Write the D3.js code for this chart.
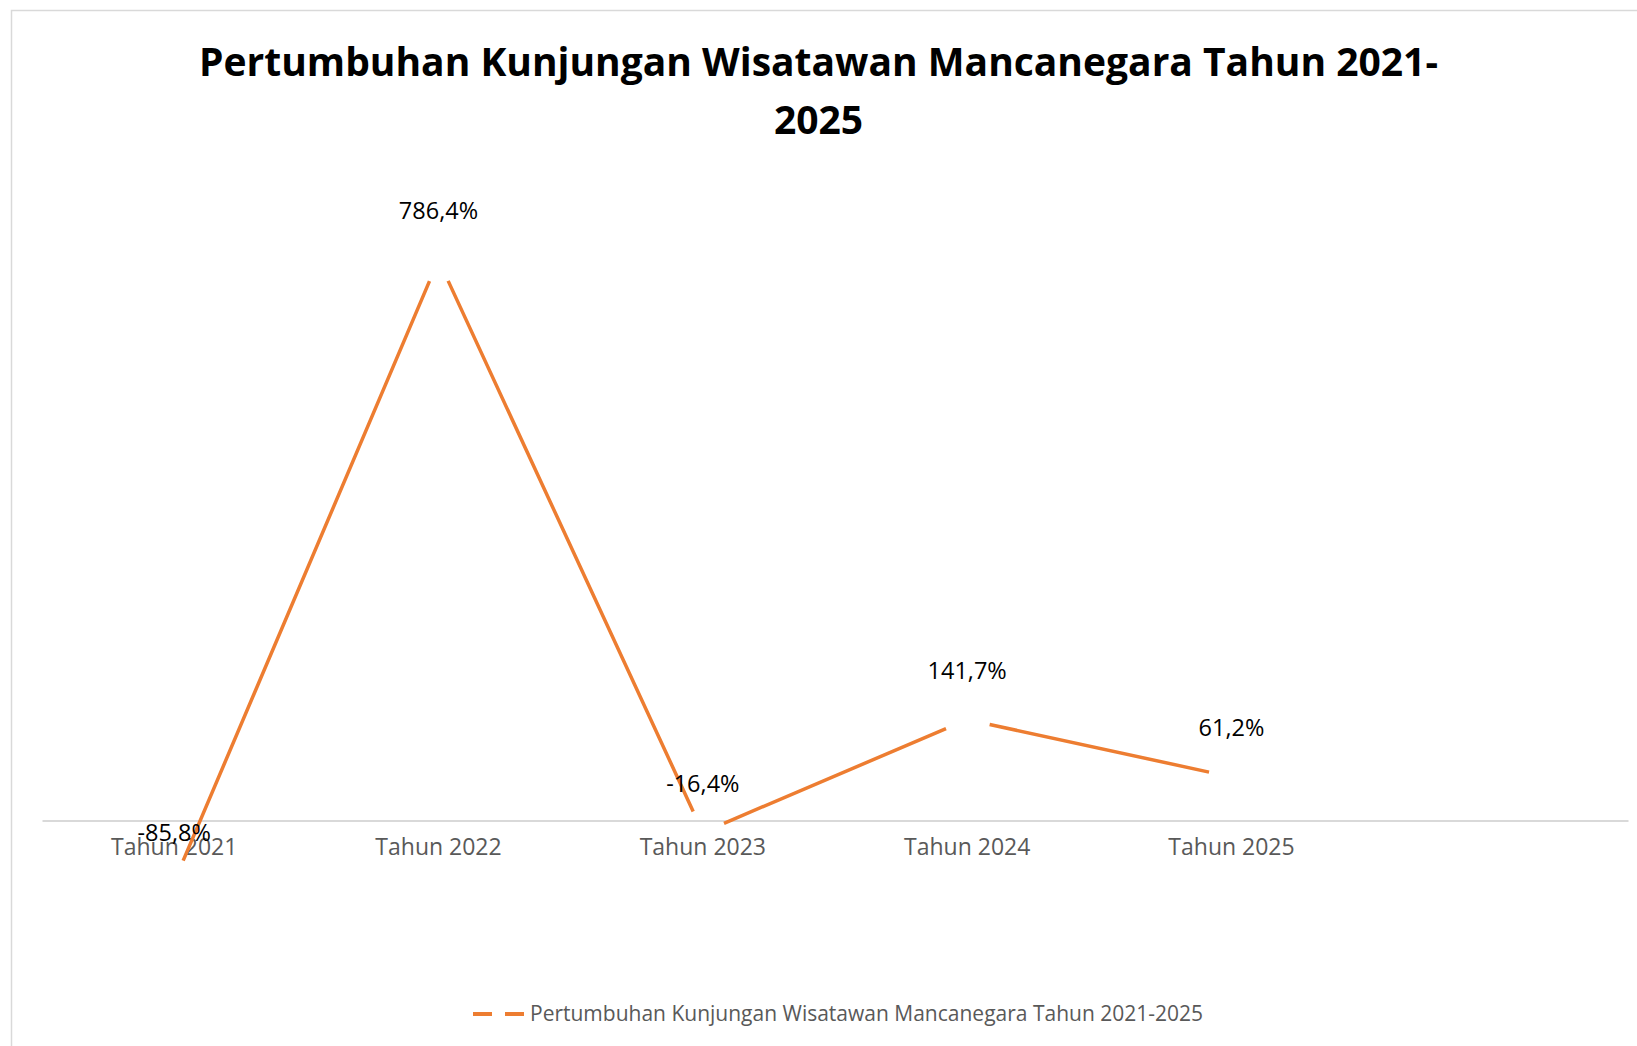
<!DOCTYPE html>
<html>
<head>
<meta charset="utf-8">
<script src="https://cdn.jsdelivr.net/npm/d3@7"></script>
<style>
  body { margin: 0; background: #fff; }
  svg { display: block; font-family: 'Open Sans', sans-serif; }
</style>
</head>
<body>
<div class="chart"></div>
<script>
////////// data /////////
var years = ['Tahun 2021', 'Tahun 2022', 'Tahun 2023', 'Tahun 2024', 'Tahun 2025'];
var slots = years.concat(['']); // excel range had one empty row
var growth = [-85.8, 786.4, -16.4, 141.7, 61.2];
var labels = ['-85,8%', '786,4%', '-16,4%', '141,7%', '61,2%'];
var titleLines = ['Pertumbuhan Kunjungan Wisatawan Mancanegara Tahun 2021-', '2025'];
var seriesName = 'Pertumbuhan Kunjungan Wisatawan Mancanegara Tahun 2021-2025';

var W = 1637, H = 1046;
var orange = '#ED7D31';
var gap = 23;

var svg = d3.select('.chart').append('svg')
  .attr('width', W)
  .attr('height', H);

// chart frame (runs off the right and bottom)
svg.append('rect')
  .attr('x', 11.5)
  .attr('y', 10.5)
  .attr('width', W + 20)
  .attr('height', H + 20)
  .style('fill', 'white')
  .style('stroke', '#d9d9d9')
  .style('stroke-width', 1.5);

// title
svg.append('text')
  .attr('x', W / 2)
  .attr('y', 76)
  .attr('text-anchor', 'middle')
  .style('font-size', '39px')
  .style('font-weight', 'bold')
  .style('fill', '#000')
  .selectAll('tspan')
  .data(titleLines)
  .enter().append('tspan')
  .attr('x', W / 2)
  .attr('dy', function(d, i) { return i ? 58 : 0; })
  .text(function(d) { return d; });

////////// scales /////////
var x = d3.scaleBand()
  .domain(slots)
  .range([42, 1628]);

var y = d3.scaleLinear()
  .domain([-100, 800])
  .range([891.9, 250.3]);

// category axis at zero
var axis = svg.append('g')
  .attr('transform', 'translate(0,' + y(0) + ')')
  .call(d3.axisBottom(x).tickSize(0).tickPadding(18));
axis.select('.domain')
  .style('stroke', '#d9d9d9')
  .style('stroke-width', 2);
axis.selectAll('text')
  .style('font-family', "'Open Sans', sans-serif")
  .style('font-size', '23px')
  .style('fill', '#595959');

////////// line /////////
var cx = function(i) { return x(years[i]) + x.bandwidth() / 2; };
var pairs = d3.pairs(growth.map(function(v, i) { return [cx(i), y(v)]; }));

var line = d3.line();
svg.append('g').selectAll('path')
  .data(pairs)
  .enter().append('path')
  .attr('d', function(d) { return line(d); })
  .style('fill', 'none')
  .style('stroke', orange)
  .style('stroke-width', 3.5)
  .each(function() {
    var len = this.getTotalLength();
    d3.select(this).style('stroke-dasharray', '0,' + gap + ',' + (len - 2 * gap) + ',' + gap);
  });

// data labels
svg.append('g').selectAll('text')
  .data(growth)
  .enter().append('text')
  .attr('x', function(d, i) { return cx(i); })
  .attr('y', function(d) { return y(d) - 49; })
  .attr('dy', '0.35em')
  .attr('text-anchor', 'middle')
  .style('font-size', '23.5px')
  .style('fill', '#000')
  .text(function(d, i) { return labels[i]; });

////////// legend /////////
var legend = svg.append('g')
  .attr('transform', 'translate(473,1014)');
legend.append('line')
  .attr('x1', 0).attr('x2', 51)
  .attr('y1', 0).attr('y2', 0)
  .style('stroke', orange)
  .style('stroke-width', 4)
  .style('stroke-dasharray', '19,13');
legend.append('text')
  .attr('x', 57)
  .attr('dy', '0.35em')
  .style('font-size', '21px')
  .style('fill', '#595959')
  .text(seriesName);
</script>
</body>
</html>
